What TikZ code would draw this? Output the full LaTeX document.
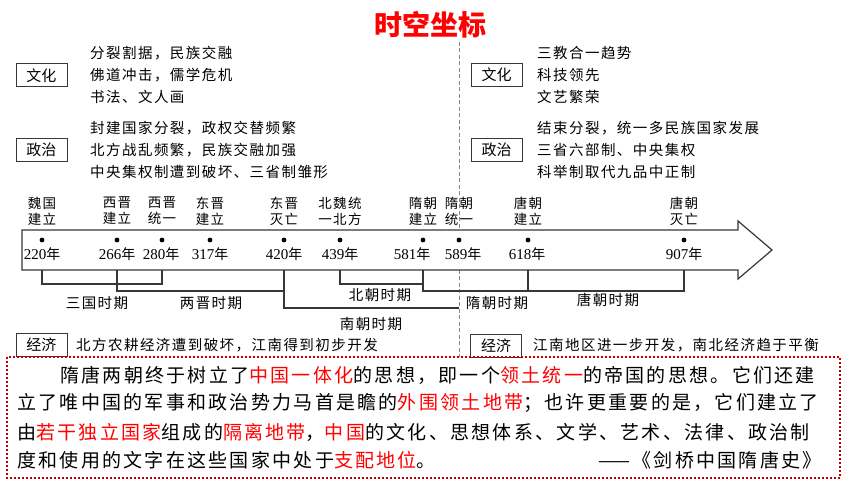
\documentclass[tikz,border=0pt]{standalone}
\usepackage{fontspec}
\setmainfont{Noto Sans CJK SC}
\newfontfamily\numfont{Liberation Serif}
\newfontfamily\tfont{Noto Sans CJK SC}[LetterSpace=10]
\newfontfamily\pfont{Noto Sans CJK SC}[LetterSpace=12]

\definecolor{rojo}{RGB}{255,0,0}
\definecolor{rojoosc}{RGB}{192,0,0}
\definecolor{gris}{RGB}{55,55,55}
\newcommand{\rj}[1]{\textcolor{rojo}{#1}}

\tikzset{
  caja/.style={draw=gris, line width=1pt, minimum width=51pt, minimum height=23pt, inner sep=0pt, font=\fontsize{15}{18}\selectfont},
  lista/.style={anchor=west, align=left, inner sep=0pt, font=\tfont\fontsize{14.5}{22}\selectfont},
  hito/.style={align=center, inner sep=0pt, font=\tfont\fontsize{13.5}{16}\selectfont},
  anio/.style={inner sep=0pt, font=\fontsize{14}{16}\selectfont},
  periodo/.style={inner sep=0pt, font=\tfont\fontsize{14.5}{17}\selectfont},
  llave/.style={draw=gris, line width=1.1pt},
  parrafo/.style={anchor=west, inner sep=0pt, font=\pfont\fontsize{19}{22}\selectfont}
}

\begin{document}
\begin{tikzpicture}[x=1pt, y=-1pt]
    % Margen
    \useasboundingbox (0,0) rectangle (860,484);

    % Titulo
    \node[text=rojo, font=\bfseries\fontsize{28}{30}\selectfont] (titulo) at (430,25) {时空坐标};

    % Linea divisoria
    \coordinate (divA) at (459,42);
    \coordinate (divB) at (459,357);
    \draw[gris!60, line width=1pt, dash pattern=on 4pt off 2.5pt] (divA) -- (divB);

    % Cultura y politica (izquierda)
    \node[caja] (culturaI) at (41.5,75.5) {文化};
    \node[lista] (culturaIt) at (90,75) {分裂割据，民族交融\\佛道冲击，儒学危机\\书法、文人画};
    \node[caja] (politicaI) at (41.5,150) {政治};
    \node[lista] (politicaIt) at (90,150) {封建国家分裂，政权交替频繁\\北方战乱频繁，民族交融加强\\中央集权制遭到破坏、三省制雏形};

    % Cultura y politica (derecha)
    \node[caja] (culturaD) at (496.5,75) {文化};
    \node[lista] (culturaDt) at (537,75) {三教合一趋势\\科技领先\\文艺繁荣};
    \node[caja] (politicaD) at (496.5,150) {政治};
    \node[lista] (politicaDt) at (537,150) {结束分裂，统一多民族国家发展\\三省六部制、中央集权\\科举制取代九品中正制};

    % Eje del tiempo
    \draw[gris, line width=1.2pt, fill=white] (22,230) -- (738,230) -- (738,221) -- (772,250)
        -- (738,279) -- (738,270) -- (22,270) -- cycle;

    % Fechas
    \foreach \x/\a/\t in {42/220/42,117/266/117,162/280/161,210/317/210,284/420/284,340/439/340,
        423/581/412,459/589/463,528/618/527,684/907/684}{
        \coordinate (d\a) at (\x,240);
        \fill[black] (d\a) circle (2.4pt);
        \node[anio] (a\a) at (\t,254) {{\numfont\fontsize{15}{16}\selectfont\a}年};
    }

    % Hitos
    \foreach \x/\l/\m in {42/魏国/建立,117/西晋/建立,162/西晋/统一,210/东晋/建立,284/东晋/灭亡,
        340/北魏统/一北方,423/隋朝/建立,459/隋朝/统一,528/唐朝/建立,684/唐朝/灭亡}
        \node[hito] (h\x) at (\x,211) {\l\\\m};

    % Periodos
    \coordinate (base) at (0,270);
    \coordinate (n1) at (0,284);
    \coordinate (n2) at (0,291);
    \coordinate (n3) at (0,308);
    \draw[llave] (d220|-base) |- (d280|-n1) -- (d280|-base);
    \draw[llave] (d266|-base) |- (d420|-n2) -- (d420|-base);
    \draw[llave] (d420|-base) |- (d589|-n3);
    \draw[llave] (d439|-base) |- (d581|-n1) -- (d581|-base);
    \draw[llave] (d581|-base) |- (d907|-n2) -- (d907|-base);
    \draw[llave] (d618|-base) -- (d618|-n2);

    \node[periodo] (p1) at (97,303) {三国时期};
    \node[periodo] (p2) at (211,303) {两晋时期};
    \node[periodo] (p3) at (380,295) {北朝时期};
    \node[periodo] (p4) at (371,324) {南朝时期};
    \node[periodo] (p5) at (497,303) {隋朝时期};
    \node[periodo] (p6) at (608,300) {唐朝时期};

    % Economia
    \node[caja] (econI) at (41.5,345) {经济};
    \node[lista] (econIt) at (76,345) {北方农耕经济遭到破坏，江南得到初步开发};
    \node[caja] (econD) at (496,345.5) {经济};
    \node[lista] (econDt) at (533,345) {江南地区进一步开发，南北经济趋于平衡};

    % Cita
    \draw[rojoosc, line width=2pt, dash pattern=on 2pt off 2pt] (7,357) rectangle (840,478);
    \node[parrafo] (l1) at (60,375) {隋唐两朝终于树立了\rj{中国一体化}的思想，即一个\rj{领土统一}的帝国的思想。它们还建};
    \node[parrafo] (l2) at (17,403) {立了唯中国的军事和政治势力马首是瞻的\rj{外围领土地带}；也许更重要的是，它们建立了};
    \node[parrafo] (l3) at (17,432) {由\rj{若干独立国家}组成的\rj{隔离地带}，\rj{中国}的文化、思想体系、文学、艺术、法律、政治制};
    \node[parrafo] (l4) at (17,460) {度和使用的文字在这些国家中处于\rj{支配地位}。};
    \node[parrafo, anchor=east] (fuente) at (822,460) {——《剑桥中国隋唐史》};
\end{tikzpicture}
\end{document}
